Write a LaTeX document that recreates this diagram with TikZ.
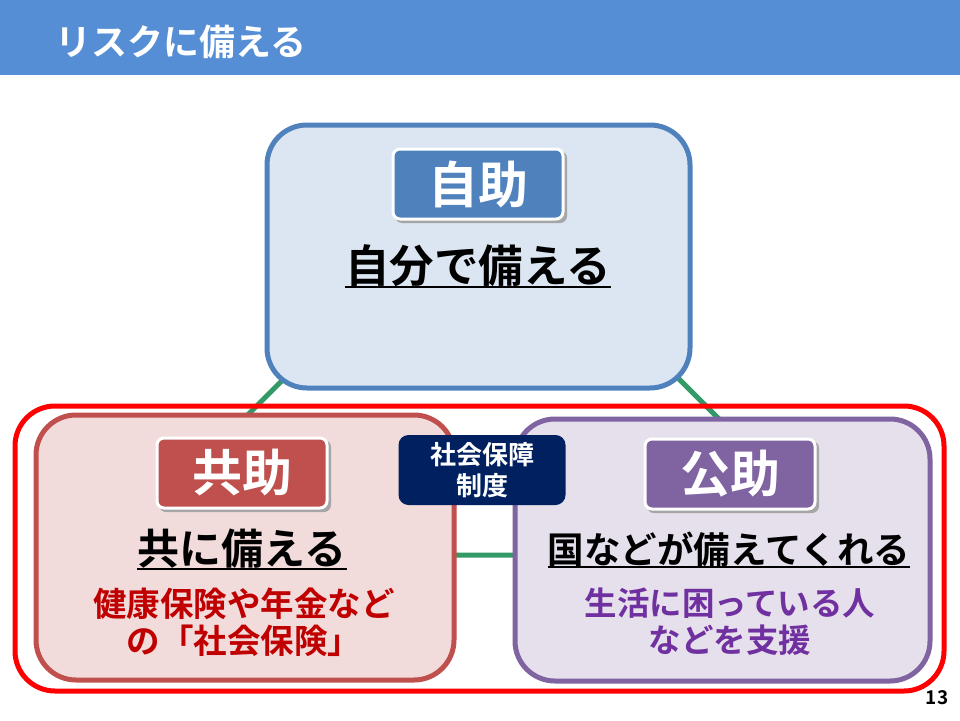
\documentclass[tikz,border=0pt]{standalone}
\usepackage{fontspec}
\setmainfont{Noto Sans CJK JP}[BoldFont={Noto Sans CJK JP Bold}]
\usetikzlibrary{calc}
\definecolor{headblue}{HTML}{558ED5}
\definecolor{selfline}{HTML}{4F81BD}
\definecolor{selffill}{HTML}{DCE6F2}
\definecolor{kyoline}{HTML}{C0504D}
\definecolor{kyofill}{HTML}{F2DCDB}
\definecolor{koline}{HTML}{8064A2}
\definecolor{kofill}{HTML}{E5E0EC}
\definecolor{navy}{HTML}{002060}
\definecolor{darkred}{HTML}{C00000}
\definecolor{purp}{HTML}{7030A0}
\definecolor{grn}{HTML}{339966}
\tikzset{
  bigbox/.style={draw, line width=5pt, rounded corners=40pt},
  labelbox/.style={draw=white, line width=3pt, rounded corners=7pt, minimum width=170pt, minimum height=70pt, text=white, font=\bfseries\fontsize{50}{54}\selectfont, inner sep=0pt},
  shadowbox/.style={fill=black!35, rounded corners=7pt, minimum width=172pt, minimum height=72pt},
  headtext/.style={font=\bfseries\fontsize{42}{46}\selectfont, inner sep=0pt},
  subtext/.style={font=\bfseries\fontsize{33.5}{37}\selectfont, align=center, inner sep=0pt},
  conn/.style={draw=grn, line width=5pt},
}
\begin{document}
\begin{tikzpicture}[x=1pt,y=-1pt]
\useasboundingbox (0,0) rectangle (960,720);
\fill[white] (0,0) rectangle (960,720);
% header
\fill[headblue] (0,0) rectangle (960,75);
\node[anchor=west, text=white, font=\bfseries\fontsize{36}{40}\selectfont, inner sep=0pt] (title) at (55,42) {リスクに備える};
% green triangle connectors
\coordinate (apex) at (481,181);
\coordinate (bl) at (108,555);
\coordinate (br) at (855,555);
\draw[conn] (apex) -- (bl) -- (br) -- cycle;
% self help box
\draw[bigbox, draw=selfline, fill=selffill] (267,125) rectangle (690,388);
\node[shadowbox] (s1sh) at (481,187) {};
\node[labelbox, fill=selfline] (jijo) at (478,184) {自助};
\node[headtext, font=\bfseries\fontsize{44.5}{48}\selectfont] (jijot) at (478,266) {自分で備える};
\draw[line width=2.5pt] ([yshift=-21pt]jijot.west) -- ([yshift=-21pt]jijot.east);
% outer red
\draw[bigbox, draw=red] (15,406) rectangle (944,691);
% mutual help box
\draw[bigbox, draw=kyoline, fill=kyofill] (36,415) rectangle (454,680);
\node[shadowbox] (s2sh) at (245,476) {};
\node[labelbox, fill=kyoline] (kyojo) at (242,473) {共助};
\node[headtext] (kyojot) at (242,549) {共に備える};
\draw[line width=2.5pt] ([yshift=-20pt]kyojot.west) -- ([yshift=-20pt]kyojot.east);
\node[subtext, text=darkred] (kyojod) at (244,622) {健康保険や年金など\\の「社会保険」};
% public help box
\draw[bigbox, draw=koline, fill=kofill] (515,419) rectangle (930,681);
\node[shadowbox] (s3sh) at (733,477) {};
\node[labelbox, fill=koline] (kojo) at (730,474) {公助};
\node[headtext, font=\bfseries\fontsize{36.5}{40}\selectfont] (kojot) at (729,549) {国などが備えてくれる};
\draw[line width=2.5pt] ([yshift=-18pt]kojot.west) -- ([yshift=-18pt]kojot.east);
\node[subtext, text=purp, font=\bfseries\fontsize{32.5}{37}\selectfont] (kojod) at (730,622) {生活に困っている人\\などを支援};
% social security system
\node[fill=navy, rounded corners=10pt, minimum width=167pt, minimum height=70pt, text=white, font=\bfseries\fontsize{26}{31}\selectfont, align=center, inner sep=0pt] (ss) at (482,470) {社会保障\\制度};
% page number
\node[font=\bfseries\fontsize{19}{20}\selectfont, inner sep=0pt] (pg) at (937,698) {13};
\end{tikzpicture}
\end{document}
